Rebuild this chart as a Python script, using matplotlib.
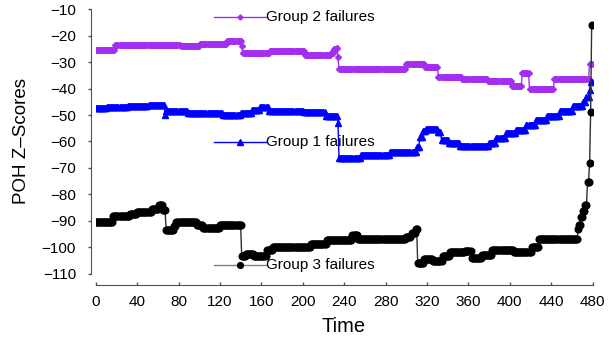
import numpy as np
import matplotlib
matplotlib.use("Agg")
import matplotlib.pyplot as plt

plt.rcParams['font.family'] = ['Liberation Sans', 'DejaVu Sans']

# ---------------- data (step levels) ----------------
n_points = 480
g2_start = [0, 19, 82, 101, 127, 141, 142, 168, 202, 227, 230, 233, 234, 235,
            300, 318, 331, 354, 379, 402, 412, 419, 443, 477]
g2_level = [-25.4, -23.6, -24.0, -23.0, -21.9, -24.0, -26.4, -25.6, -27.2, -26.5,
            -25.0, -24.6, -28.1, -32.7, -30.8, -31.9, -35.4, -36.5, -37.0, -39.0,
            -34.2, -40.0, -36.3, -30.5]

g1_start = [0, 11, 31, 51, 67, 68, 89, 123, 140, 151, 159, 167, 201, 222, 234,
            235, 256, 284, 310, 313, 316, 319, 331, 334, 341, 352, 380, 387, 396,
            406, 416, 425, 436, 448, 461, 471, 474, 477, 478]
g1_level = [-47.2, -47.0, -46.7, -46.0, -50.0, -48.5, -49.3, -50.0, -49.3, -48.2,
            -47.0, -48.5, -48.8, -50.3, -53.0, -66.2, -65.0, -63.8, -62.2, -58.2,
            -56.0, -55.2, -56.5, -59.4, -60.5, -61.8, -60.5, -58.8, -56.8, -55.5,
            -53.8, -52.0, -50.5, -48.5, -46.5, -45.0, -43.3, -40.5, -37.5]

g3_start = [0, 17, 33, 40, 54, 61, 65, 68, 76, 78, 98, 104, 120, 141, 145, 153,
            165, 171, 208, 223, 248, 253, 300, 305, 309, 311, 317, 326, 335, 342,
            357, 363, 373, 383, 404, 421, 428, 466, 467, 469, 471, 473, 475, 477,
            478, 479]
g3_level = [-90.4, -88.4, -87.5, -86.6, -85.4, -84.2, -86.0, -93.4, -92.0, -90.5,
            -91.6, -92.6, -91.6, -103.4, -102.6, -103.4, -101.0, -99.8, -99.0, -97.3,
            -95.6, -97.1, -96.0, -94.5, -93.0, -106.0, -104.4, -105.4, -103.5, -102.0,
            -101.5, -104.0, -103.0, -101.0, -101.8, -100.0, -96.8, -93.0, -91.5, -88.5,
            -86.5, -84.0, -75.2, -68.0, -49.0, -16.0]

series_names = ["Group 2 failures", "Group 1 failures", "Group 3 failures"]
x_ticks = [0, 40, 80, 120, 160, 200, 240, 280, 320, 360, 400, 440, 480]
y_ticks = [-10, -20, -30, -40, -50, -60, -70, -80, -90, -100, -110]


def expand(starts, levels):
    runs = np.diff(list(starts) + [n_points])
    return np.repeat(levels, runs)


t = np.arange(n_points)
g2 = expand(g2_start, g2_level)
g1 = expand(g1_start, g1_level)
g3 = expand(g3_start, g3_level)

# ---------------- figure ----------------
W, H = 615, 338
fig = plt.figure(figsize=(W / 100, H / 100), dpi=100)
ax = fig.add_axes([95.7 / W, 1 - 273.5 / H, (592.7 - 95.7) / W, (273.5 - 9.5) / H])

purple = '#a32ef0'
blue = '#0000ff'

ax.plot(t, g2, color=purple, lw=1, marker='D', ms=3.0, mec=purple, mfc=purple, zorder=3)
ax.plot(t, g1, color=blue, lw=1, marker='^', ms=4.6, mec=blue, mfc=blue, zorder=4)
ax.plot(t, g3, color='#303030', lw=1, marker='o', ms=4.8, mec='k', mfc='k', zorder=5)

# in-plot series labels
lab_x0, lab_xm, lab_x1 = 114.3, 139.4, 164.5
for name, yv, col, mk, ms, lcol in [
        (series_names[0], -12.8, purple, 'D', 2.6, purple),
        (series_names[1], -60.2, blue, '^', 4.0, blue),
        (series_names[2], -106.8, 'k', 'o', 4.2, '#808080')]:
    ax.plot([lab_x0, lab_x1], [yv, yv], color=lcol, lw=1, clip_on=False, zorder=6)
    ax.plot([lab_xm], [yv], marker=mk, ms=ms, color=col, clip_on=False, zorder=6)
    ax.text(lab_x1, yv, name, fontsize=11, va='center', ha='left', zorder=6)

ax.set_xlim(0, 480)
ax.set_ylim(-110, -10)
ax.set_xticks(x_ticks)
ax.set_yticks(y_ticks)

for s in ['top', 'right']:
    ax.spines[s].set_visible(False)
spc = '#505050'
ax.spines['left'].set_position(('outward', 3.6))
ax.spines['bottom'].set_position(('outward', 8.3))
ax.spines['left'].set_color(spc)
ax.spines['bottom'].set_color(spc)
ax.tick_params(axis='y', direction='out', length=2.5, width=1, color=spc,
               labelsize=11, pad=8)
ax.tick_params(axis='x', direction='in', length=2, width=1, color=spc,
               labelsize=11, pad=7)

fig.text(344 / W, 1 - 327 / H, 'Time', fontsize=14.5, ha='center', va='center')
fig.text(22 / W, 1 - 141 / H, 'POH Z\u2013Scores', fontsize=13.5, ha='center',
         va='center', rotation=90)

fig.savefig('out.png', dpi=100)
